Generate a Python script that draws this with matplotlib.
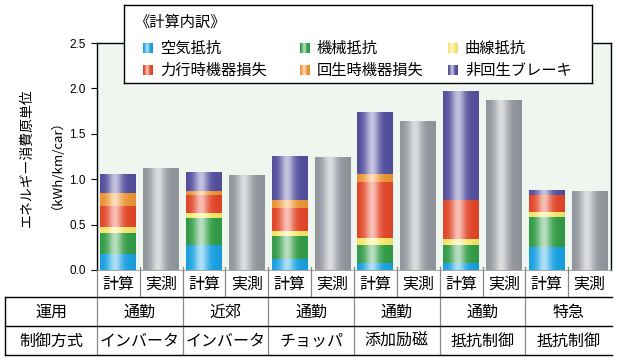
import numpy as np
import matplotlib
matplotlib.use("Agg")
import matplotlib.pyplot as plt
from matplotlib.colors import to_rgb
from matplotlib.lines import Line2D
from matplotlib.transforms import blended_transform_factory

plt.rcParams['font.family'] = ['Noto Sans CJK JP', 'DejaVu Sans']

# data (kWh/km/car)
components = ['空気抵抗', '機械抵抗', '曲線抵抗', '力行時機器損失', '回生時機器損失', '非回生ブレーキ']
colors = ['#1aa8ea', '#36a34a', '#fff170', '#ec4a2c', '#f59c38', '#5753a4']
air = [0.18, 0.275, 0.12, 0.08, 0.08, 0.256]
mech = [0.23, 0.30, 0.255, 0.19, 0.20, 0.33]
curve = [0.06, 0.055, 0.055, 0.08, 0.066, 0.055]
power_loss = [0.24, 0.20, 0.25, 0.62, 0.42, 0.19]
regen_loss = [0.14, 0.036, 0.09, 0.085, 0.0, 0.0]
brake = [0.21, 0.21, 0.49, 0.68, 1.20, 0.047]
measured = [1.12, 1.044, 1.25, 1.645, 1.868, 0.868]

usage = ['通勤', '近郊', '通勤', '通勤', '通勤', '特急']
control = ['インバータ', 'インバータ', 'チョッパ', '添加励磁', '抵抗制御', '抵抗制御']
yticks = [0.0, 0.5, 1.0, 1.5, 2.0, 2.5]

W, H = 617, 360
fig = plt.figure(figsize=(W / 100, H / 100), dpi=100)
ax = fig.add_axes([97 / W, 1 - 270 / H, 514 / W, 227 / H])
ax.set_facecolor('#eff5ef')


def shade(color, n=80):
    base = np.array(to_rgb(color))
    t = np.linspace(0, 1, n)
    hl = 0.65 * np.exp(-((t - 0.42) / 0.2) ** 2)
    rgb = base[None, :] * (1 - hl[:, None]) + hl[:, None]
    rgb *= (1 - 0.08 * np.abs(t - 0.42) / 0.58)[:, None]
    return np.clip(rgb, 0, 1)[None, :, :]


def gradient_bars(bars, color):
    img = shade(color)
    for r in bars:
        if r.get_height() <= 0:
            continue
        x0, y0 = r.get_x(), r.get_y()
        im = ax.imshow(img, extent=[x0, x0 + r.get_width(), y0, y0 + r.get_height()],
                       aspect='auto', zorder=2, interpolation='bilinear')
        im.set_clip_path(r)


xc = np.arange(6) * 2
xm = xc + 1
width = 0.84
series = [air, mech, curve, power_loss, regen_loss, brake]
bottom = np.zeros(6)
for vals, col in zip(series, colors):
    b = ax.bar(xc, vals, width, bottom=bottom, color=col, zorder=1)
    gradient_bars(b, col)
    bottom += np.array(vals)
b = ax.bar(xm, measured, width, color='#9a9ea5', zorder=1)
gradient_bars(b, '#9a9ea5')

ax.set_xlim(-0.5, 11.5)
ax.set_ylim(0, 2.5)
ax.set_xticks([])
ax.set_yticks(yticks)
ax.set_yticklabels([f'{v:.1f}' for v in yticks], family='Liberation Sans', fontsize=8.5)
ax.tick_params(axis='y', direction='out', length=4, width=0.8, pad=4)
for s in ['left', 'top', 'right']:
    ax.spines[s].set_linewidth(1.0)
ax.spines['bottom'].set_color('#999999')
ax.spines['bottom'].set_linewidth(0.6)

fig.text(27 / W, 1 - 158 / H, 'エネルギー消費原単位', rotation=90, ha='center', va='center', fontsize=10)
fig.text(50 / W, 1 - 158 / H, '（kWh/km/car）', rotation=90, ha='center', va='center', fontsize=9.5)

# table under the axis
bt = blended_transform_factory(ax.transData, fig.transFigure)
fy = lambda py: 1 - py / H
for k in range(1, 12):
    y_end = 355 if k % 2 == 0 else 297
    fig.add_artist(Line2D([k - 0.5, k - 0.5], [fy(267), fy(y_end)], transform=bt,
                          color='#888888', lw=0.9, clip_on=False))
fig.add_artist(Line2D([97 / W, 97 / W], [fy(270), fy(355)], transform=fig.transFigure, color='#888888', lw=0.9))
fig.add_artist(Line2D([5 / W, 5 / W], [fy(297), fy(355)], transform=fig.transFigure, color='black', lw=1.0))
for py in [297, 326, 355]:
    fig.add_artist(Line2D([5 / W, 612 / W], [fy(py), fy(py)], transform=fig.transFigure, color='black', lw=1.0))

fs = 11.5
for i in range(6):
    fig.text(xc[i], fy(284), '計算', transform=bt, ha='center', va='center', fontsize=fs)
    fig.text(xm[i], fy(284), '実測', transform=bt, ha='center', va='center', fontsize=fs)
    fig.text(xc[i] + 0.5, fy(312), usage[i], transform=bt, ha='center', va='center', fontsize=fs)
    fig.text(xc[i] + 0.5, fy(341), control[i], transform=bt, ha='center', va='center', fontsize=fs)
fig.text(51 / W, fy(312), '運用', ha='center', va='center', fontsize=fs)
fig.text(51 / W, fy(341), '制御方式', ha='center', va='center', fontsize=fs)

# legend box
lax = fig.add_axes([124 / W, 1 - 83 / H, 468 / W, 78 / H], zorder=5)
lax.set_facecolor('white')
lax.set_xticks([])
lax.set_yticks([])
for s in lax.spines.values():
    s.set_linewidth(1.0)
lax.text(11, 17, '《計算内訳》', ha='left', va='center', fontsize=11)
pos = [(19, 43), (176, 43), (324, 43), (19, 65), (176, 65), (324, 65)]
for (px, py), idx in zip(pos, range(6)):
    img = shade(colors[idx])
    lax.imshow(img, extent=[px, px + 10, py + 5, py - 5], aspect='auto', interpolation='bilinear')
    lax.text(px + 17, py, components[idx], ha='left', va='center', fontsize=11)
lax.set_xlim(0, 468)
lax.set_ylim(78, 0)

fig.savefig('out.png', dpi=100)
